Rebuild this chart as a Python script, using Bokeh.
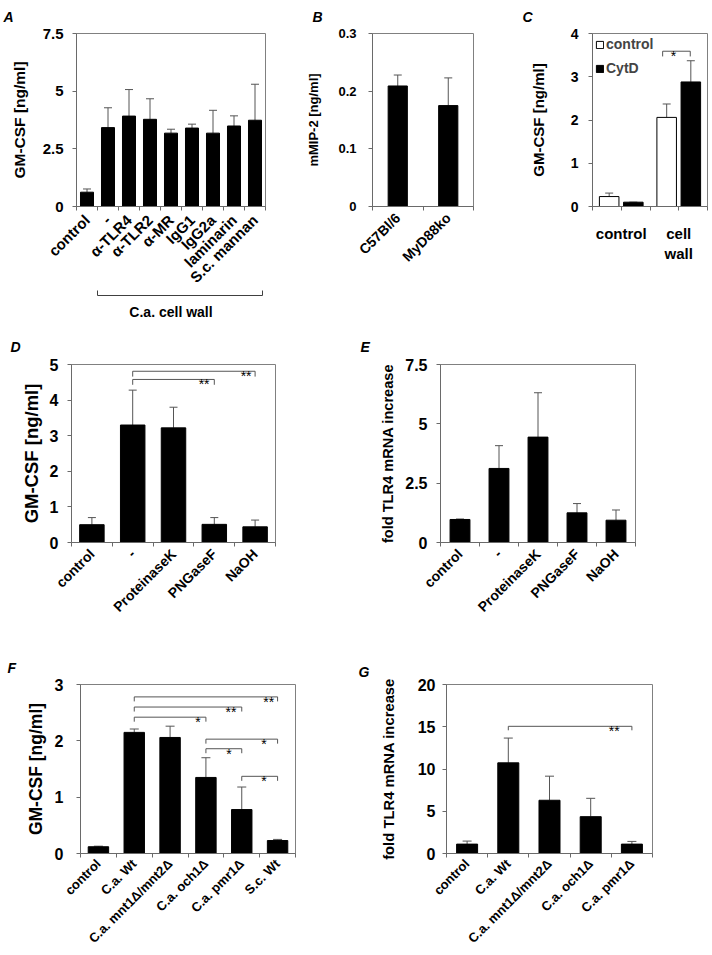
from math import pi
from bokeh.plotting import figure
from bokeh.layouts import row, column
from bokeh.models import (Range1d, FixedTicker, Whisker, TeeHead, ColumnDataSource,
                          Legend, LegendItem, Title, LinearAxis)
from bokeh.core.properties import value
from bokeh.embed import file_html
from bokeh.resources import INLINE

FONT = "Liberation Sans"
GRAY = "#808080"
AXC = "#6a6a6a"
ERR = "#555555"

# ---------------- data ----------------
a_cats = ["control", "-", "α-TLR4", "α-TLR2", "α-MR", "IgG1", "IgG2a", "laminarin", "S.c. mannan"]
a_mean = [0.62, 3.42, 3.92, 3.78, 3.18, 3.40, 3.18, 3.49, 3.74]
a_err = [0.14, 0.86, 1.15, 0.89, 0.17, 0.17, 0.99, 0.44, 1.56]
a_yticks = [0, 2.5, 5, 7.5]
a_group = "C.a. cell wall"

b_cats = ["C57Bl/6", "MyD88ko"]
b_mean = [0.209, 0.175]
b_err = [0.019, 0.048]
b_yticks = [0, 0.1, 0.2, 0.3]

c_cats = ["control", "cell\nwall"]
c_series = ["control", "CytD"]
c_ctrl_mean = [0.23, 2.06]
c_ctrl_err = [0.08, 0.31]
c_cytd_mean = [0.10, 2.88]
c_cytd_err = [0.0, 0.49]
c_yticks = [0, 1, 2, 3, 4]

d_cats = ["control", "-", "ProteinaseK", "PNGaseF", "NaOH"]
d_mean = [0.50, 3.30, 3.22, 0.51, 0.44]
d_err = [0.20, 0.98, 0.58, 0.19, 0.19]
d_yticks = [0, 1, 2, 3, 4, 5]

e_cats = ["control", "-", "ProteinaseK", "PNGaseF", "NaOH"]
e_mean = [0.97, 3.12, 4.44, 1.25, 0.94]
e_err = [0.02, 0.96, 1.87, 0.39, 0.43]
e_yticks = [0, 2.5, 5, 7.5]

f_cats = ["control", "C.a. Wt", "C.a. mnt1Δ/mnt2Δ", "C.a. och1Δ", "C.a. pmr1Δ", "S.c. Wt"]
f_mean = [0.12, 2.15, 2.06, 1.35, 0.78, 0.23]
f_err = [0.01, 0.06, 0.20, 0.35, 0.40, 0.02]
f_yticks = [0, 1, 2, 3]

g_cats = ["control", "C.a. Wt", "C.a. mnt1Δ/mnt2Δ", "C.a. och1Δ", "C.a. pmr1Δ"]
g_mean = [1.11, 10.73, 6.30, 4.36, 1.11]
g_err = [0.36, 2.93, 2.85, 2.17, 0.32]
g_yticks = [0, 5, 10, 15, 20]

# significance brackets: (from category, to category, height, label, star offset)
c_sig = [(1.72, 2.20, 3.59, "*", 0.29)]
d_sig = [(2, 4, 4.58, "**", 0.25), (2, 5, 4.81, "**", 0.22)]
f_sig = [(2, 6, 2.78, "**", 0.25), (2, 5, 2.60, "**", 0.30), (2, 4, 2.42, "*", 0.22),
         (4, 6, 2.03, "*", 0.38), (4, 5, 1.86, "*", 0.36), (5, 6, 1.37, "*", 0.38)]
g_sig = [(2, 5, 15.05, "**", 0.43)]


def make_panel(width, height, borders, cats, ymax, yticks, ylabel,
               ytick_size, ylabel_size, tick_std, ylabel_std, xlabel_size,
               letter, letter_offset, letter_standoff,
               orient=pi / 4, xstd=5):
    left, right, top, bottom = borders
    n = len(cats)
    p = figure(width=width, height=height, output_backend="svg", toolbar_location=None,
               x_range=Range1d(0.5, n + 0.5), y_range=Range1d(0, ymax),
               min_border_left=left, min_border_right=right,
               min_border_top=top, min_border_bottom=bottom)
    p.title = Title(text=letter, align="left", vertical_align="top", offset=letter_offset,
                    standoff=letter_standoff, text_font=FONT,
                    text_font_style="bold italic", text_font_size="14px",
                    text_color="black")
    p.xgrid.visible = False
    p.ygrid.visible = False
    p.outline_line_color = GRAY
    p.background_fill_color = "white"
    p.border_fill_color = "white"

    xa = p.xaxis[0]
    xa.ticker = FixedTicker(ticks=list(range(1, n + 1)),
                            minor_ticks=[i + 0.5 for i in range(n + 1)])
    xa.major_label_overrides = {i + 1: c for i, c in enumerate(cats)}
    xa.major_tick_line_color = None
    xa.major_tick_out = 4
    xa.major_tick_in = 0
    xa.minor_tick_out = 4
    xa.minor_tick_in = 0
    xa.minor_tick_line_color = AXC
    xa.axis_line_color = AXC
    xa.major_label_orientation = orient
    xa.major_label_standoff = xstd
    xa.major_label_text_font = FONT
    xa.major_label_text_font_style = "bold"
    xa.major_label_text_font_size = f"{xlabel_size}px"
    xa.major_label_text_color = "black"

    ya = p.yaxis[0]
    ya.ticker = FixedTicker(ticks=yticks)
    ya.minor_tick_line_color = None
    ya.major_tick_out = 4
    ya.major_tick_in = 0
    ya.major_tick_line_color = AXC
    ya.axis_line_color = AXC
    ya.major_label_standoff = tick_std
    ya.major_label_text_font = FONT
    ya.major_label_text_font_style = "bold"
    ya.major_label_text_font_size = f"{ytick_size}px"
    ya.major_label_text_color = "black"
    ya.axis_label = ylabel
    ya.axis_label_standoff = ylabel_std
    ya.axis_label_text_font = FONT
    ya.axis_label_text_font_style = "bold"
    ya.axis_label_text_font_size = f"{ylabel_size}px"
    ya.axis_label_text_color = "black"
    return p


def bars(p, xs, means, errs, width, fill="black", cap=8):
    src = ColumnDataSource(dict(x=xs, top=means,
                                hi=[m + e for m, e in zip(means, errs)]))
    r = p.vbar(x="x", top="top", width=width, bottom=0, source=src,
               fill_color=fill, line_color="black", line_width=1)
    p.add_layout(Whisker(source=src, base="x", lower="top", upper="hi",
                         line_color=ERR, line_width=1, lower_head=None,
                         upper_head=TeeHead(size=cap, line_color=ERR, line_width=1)))
    return r


def sig(p, specs, tick, size=14):
    for x1, x2, y, s, dx in specs:
        p.line([x1, x1, x2, x2], [y - tick, y, y, y - tick], line_color=ERR, line_width=1)
        p.text(x=[x2 - dx], y=[y], text=[s], text_font=value(FONT),
               text_font_size=f"{size}px", text_align="center",
               text_baseline="alphabetic", y_offset=5, text_color="black")


def idx(n):
    return list(range(1, n + 1))


# ---------------- Panel A ----------------
pA = make_panel(295, 330, (76, 30, 32, 124), a_cats, 7.5, a_yticks, "GM-CSF [ng/ml]",
                15, 15.5, 9, 12, 15, "A", -73, 13, xstd=7)
bars(pA, idx(len(a_cats)), a_mean, a_err, 0.62, cap=8)
grp = LinearAxis(bounds=(1.5, 9.36), ticker=FixedTicker(ticks=[], minor_ticks=[1.5, 9.36]),
                 major_tick_line_color=None, minor_tick_in=5, minor_tick_out=0,
                 minor_tick_line_color="#404040", axis_line_color="#404040",
                 major_label_standoff=0,
                 axis_label=a_group, axis_label_standoff=8,
                 axis_label_text_font=FONT, axis_label_text_font_style="bold",
                 axis_label_text_font_size="14px", axis_label_text_color="black")
pA.add_layout(grp, "below")

# ---------------- Panel B ----------------
pB = make_panel(225, 330, (77, 47, 33, 123), b_cats, 0.3, b_yticks, "mMIP-2 [ng/ml]",
                13, 13, 12, 14, 14, "B", -60, 14)
bars(pB, idx(len(b_cats)), b_mean, b_err, 0.38, cap=8)

# ---------------- Panel C ----------------
pC = make_panel(192, 330, (72, 5, 33, 122), c_cats, 4, c_yticks, "GM-CSF [ng/ml]",
                14, 15, 10, 21, 15, "C", -70, 14, orient="horizontal", xstd=14)
pC.xaxis[0].major_tick_line_color = AXC
cx = idx(len(c_cats))
r1 = bars(pC, [x - 0.21 for x in cx], c_ctrl_mean, c_ctrl_err, 0.34, fill="white", cap=8)
r2 = bars(pC, [x + 0.21 for x in cx], c_cytd_mean, c_cytd_err, 0.34, fill="black", cap=8)
sig(pC, c_sig, 0.12)
legend = Legend(items=[LegendItem(label=value(c_series[0]), renderers=[r1]),
                       LegendItem(label=value(c_series[1]), renderers=[r2])],
                location="top_left", border_line_color=None, background_fill_alpha=0,
                margin=3, padding=1, spacing=8, glyph_width=9, glyph_height=9,
                label_standoff=2, label_height=14, label_text_font=FONT,
                label_text_font_style="bold", label_text_font_size="14px")
pC.add_layout(legend)

# ---------------- Panel D ----------------
pD = make_panel(355, 315, (71, 80, 34, 103), d_cats, 5, d_yticks, "GM-CSF [ng/ml]",
                16, 18.5, 9, 5, 14, "D", -61, 15)
bars(pD, idx(len(d_cats)), d_mean, d_err, 0.6, cap=8)
sig(pD, d_sig, 0.15)

# ---------------- Panel E ----------------
pE = make_panel(357, 315, (85, 77, 34, 96), e_cats, 7.5, e_yticks, "fold TLR4 mRNA increase",
                16, 14.6, 9, 6, 14, "E", -80, 15)
bars(pE, idx(len(e_cats)), e_mean, e_err, 0.51, cap=8)

# ---------------- Panel F ----------------
pF = make_panel(355, 310, (80, 60, 38, 98), f_cats, 3, f_yticks, "GM-CSF [ng/ml]",
                16, 17.5, 13, 6, 13, "F", -73, 14, xstd=4)
bars(pF, idx(len(f_cats)), f_mean, f_err, 0.57, cap=9)
sig(pF, f_sig, 0.08)

# ---------------- Panel G ----------------
pG = make_panel(357, 310, (91, 60, 39, 102), g_cats, 20, g_yticks, "fold TLR4 mRNA increase",
                16, 14.8, 7, 18, 13, "G", -88, 6, xstd=4)
bars(pG, idx(len(g_cats)), g_mean, g_err, 0.51, cap=9)
sig(pG, g_sig, 0.47)

layout = column(row(pA, pB, pC), row(pD, pE), row(pF, pG))
open("out.html", "w").write(file_html(layout, INLINE))
